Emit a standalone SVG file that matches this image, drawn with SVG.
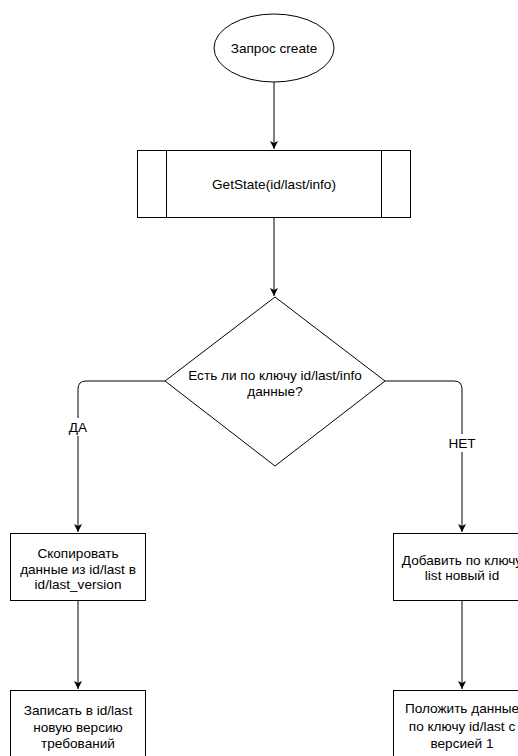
<svg xmlns="http://www.w3.org/2000/svg" width="518" height="756" viewBox="0 0 518 756">
<style>
.s{fill:#fff;stroke:#000;stroke-width:1}
.t{font-family:"Liberation Sans",Arial,sans-serif;font-size:13.6px;fill:#000;text-anchor:middle}
.c{fill:none;stroke:#000;stroke-width:1}
</style>
<defs>
<marker id="a" markerWidth="10" markerHeight="10" refX="8" refY="4" orient="auto" markerUnits="userSpaceOnUse">
<path d="M0,0 L8,4 L0,8 L2,4 Z" fill="#000"/>
</marker>
</defs>
<rect width="518" height="756" fill="#fff"/>
<g id="connectors">
<path class="c" d="M274,82 V149" marker-end="url(#a)"/>
<path class="c" d="M274,218 V296" marker-end="url(#a)"/>
<path class="c" d="M165,381 H86 Q78,381 78,389 V532" marker-end="url(#a)"/>
<path class="c" d="M385,381 H454 Q462,381 462,389 V532" marker-end="url(#a)"/>
<path class="c" d="M78,601 V689" marker-end="url(#a)"/>
<path class="c" d="M462,601 V689" marker-end="url(#a)"/>
<rect x="66" y="418" width="24" height="18" fill="#fff"/>
<text class="t" x="78" y="432">ДА</text>
<rect x="447" y="434" width="30" height="18" fill="#fff"/>
<text class="t" x="462" y="448">НЕТ</text>
</g>
<g id="start">
<ellipse class="s" cx="274" cy="48" rx="60" ry="34"/>
<text class="t" x="274" y="53">Запрос create</text>
</g>
<g id="getstate">
<rect class="s" x="137.5" y="150.5" width="273" height="67"/>
<line class="c" x1="166.5" y1="150.5" x2="166.5" y2="217.5"/>
<line class="c" x1="381.5" y1="150.5" x2="381.5" y2="217.5"/>
<text class="t" x="274" y="189">GetState(id/last/info)</text>
</g>
<g id="decision">
<polygon class="s" points="275,297 385,381 275,466 165,381"/>
<text class="t" x="275" y="380">Есть ли по ключу id/last/info</text>
<text class="t" x="275" y="396">данные?</text>
</g>
<g id="copy">
<rect class="s" x="10.5" y="533.5" width="135" height="67"/>
<text class="t" x="78" y="558">Скопировать</text>
<text class="t" x="78" y="574">данные из id/last в</text>
<text class="t" x="78" y="589">id/last_version</text>
</g>
<g id="write">
<rect class="s" x="10.5" y="690.5" width="135" height="67"/>
<text class="t" x="78" y="715">Записать в id/last</text>
<text class="t" x="78" y="732">новую версию</text>
<text class="t" x="78" y="748">требований</text>
</g>
<g id="add">
<rect class="s" x="393.5" y="533.5" width="137" height="67"/>
<text class="t" x="462" y="565">Добавить по ключу</text>
<text class="t" x="462" y="580">list новый id</text>
</g>
<g id="put">
<rect class="s" x="393.5" y="690.5" width="137" height="67"/>
<text class="t" x="462" y="713">Положить данные</text>
<text class="t" x="462" y="731">по ключу id/last с</text>
<text class="t" x="462" y="748">версией 1</text>
</g>
</svg>
